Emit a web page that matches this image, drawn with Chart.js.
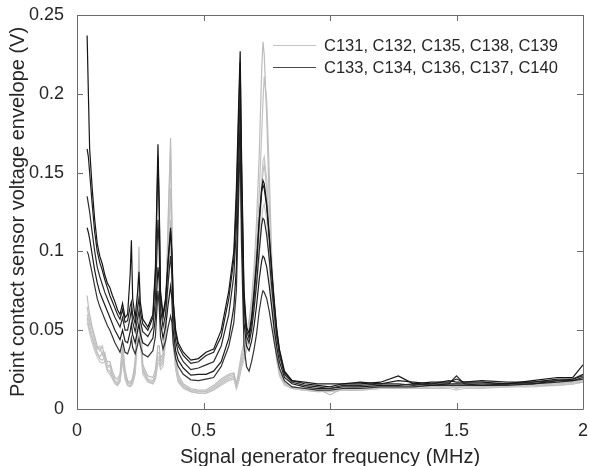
<!DOCTYPE html>
<html>
<head>
<meta charset="utf-8">
<script src="https://cdn.jsdelivr.net/npm/chart.js@4.4.1/dist/chart.umd.min.js"></script>
<style>
  html, body { margin: 0; padding: 0; background: #fff; }
  #wrap { width: 589px; height: 466px; }
</style>
</head>
<body>
<div id="wrap"><canvas id="envelope" width="589" height="466"></canvas></div>
<script>
// frequency grid (MHz) shared by every trace
const freq = [
  0.04, 0.045, 0.05, 0.06, 0.07, 0.08, 0.09, 0.10, 0.11, 0.12,
  0.13, 0.14, 0.15, 0.16, 0.17, 0.18, 0.19, 0.20, 0.21, 0.215,
  0.22, 0.23, 0.24, 0.245, 0.25, 0.26, 0.28, 0.30, 0.31, 0.32,
  0.325, 0.33, 0.34, 0.35, 0.36, 0.37, 0.375, 0.38, 0.39, 0.40,
  0.42, 0.45, 0.48, 0.51, 0.54, 0.57, 0.60, 0.62, 0.63, 0.64,
  0.645, 0.65, 0.66, 0.67, 0.68, 0.69, 0.70, 0.71, 0.72, 0.73,
  0.735, 0.74, 0.75, 0.76, 0.77, 0.78, 0.79, 0.80, 0.82, 0.85,
  0.90, 0.95, 1.00, 1.05, 1.12, 1.20, 1.27, 1.33, 1.40, 1.47,
  1.50, 1.53, 1.60, 1.70, 1.80, 1.90, 1.96, 2.00
];

// dark group: C133, C134, C136, C137, C140 (V)
const dark1 = [
  0.237, 0.2, 0.165, 0.14, 0.12, 0.105, 0.097, 0.092, 0.085, 0.08,
  0.077, 0.072, 0.068, 0.063, 0.06, 0.067, 0.058, 0.06, 0.085, 0.107,
  0.07, 0.058, 0.075, 0.087, 0.068, 0.057, 0.052, 0.06, 0.09, 0.168,
  0.13, 0.075, 0.06, 0.07, 0.095, 0.115, 0.1, 0.07, 0.05, 0.042,
  0.036, 0.031, 0.032, 0.036, 0.038, 0.05, 0.075, 0.1, 0.14, 0.2,
  0.227, 0.165, 0.075, 0.052, 0.048, 0.058, 0.075, 0.095, 0.12, 0.14,
  0.145, 0.143, 0.13, 0.11, 0.088, 0.068, 0.05, 0.038, 0.024, 0.018,
  0.016, 0.015, 0.014, 0.016, 0.016, 0.017, 0.021, 0.016, 0.017, 0.017,
  0.019, 0.017, 0.017, 0.016, 0.018, 0.02, 0.02, 0.028
];
const dark2 = [
  0.165, 0.16, 0.15, 0.13, 0.112, 0.1, 0.093, 0.088, 0.082, 0.077,
  0.072, 0.068, 0.064, 0.06, 0.057, 0.063, 0.055, 0.056, 0.065, 0.068,
  0.06, 0.054, 0.065, 0.07, 0.062, 0.054, 0.05, 0.058, 0.085, 0.16,
  0.125, 0.072, 0.058, 0.068, 0.092, 0.113, 0.098, 0.068, 0.048, 0.04,
  0.034, 0.029, 0.03, 0.034, 0.036, 0.046, 0.07, 0.095, 0.13, 0.19,
  0.22, 0.155, 0.07, 0.05, 0.045, 0.055, 0.072, 0.092, 0.118, 0.138,
  0.142, 0.14, 0.128, 0.108, 0.086, 0.066, 0.049, 0.037, 0.023, 0.018,
  0.017, 0.016, 0.016, 0.016, 0.017, 0.016, 0.018, 0.017, 0.016, 0.018,
  0.017, 0.017, 0.018, 0.017, 0.017, 0.019, 0.019, 0.022
];
const dark3 = [
  0.135, 0.13, 0.125, 0.112, 0.1, 0.09, 0.084, 0.079, 0.074, 0.07,
  0.066, 0.062, 0.058, 0.055, 0.052, 0.058, 0.05, 0.05, 0.058, 0.063,
  0.055, 0.049, 0.058, 0.062, 0.056, 0.049, 0.046, 0.052, 0.07, 0.12,
  0.1, 0.064, 0.052, 0.06, 0.08, 0.097, 0.086, 0.06, 0.043, 0.036,
  0.03, 0.025, 0.026, 0.028, 0.03, 0.04, 0.06, 0.085, 0.115, 0.175,
  0.2, 0.14, 0.065, 0.046, 0.042, 0.05, 0.064, 0.08, 0.1, 0.117,
  0.121, 0.12, 0.11, 0.095, 0.077, 0.06, 0.045, 0.034, 0.022, 0.017,
  0.015, 0.014, 0.013, 0.015, 0.015, 0.016, 0.016, 0.015, 0.016, 0.016,
  0.021, 0.016, 0.016, 0.016, 0.017, 0.018, 0.019, 0.021
];
const dark4 = [
  0.115, 0.112, 0.108, 0.098, 0.088, 0.08, 0.074, 0.07, 0.066, 0.062,
  0.058, 0.054, 0.05, 0.047, 0.044, 0.05, 0.043, 0.042, 0.049, 0.054,
  0.047, 0.042, 0.05, 0.054, 0.048, 0.042, 0.04, 0.045, 0.058, 0.09,
  0.08, 0.055, 0.045, 0.052, 0.066, 0.078, 0.07, 0.05, 0.037, 0.031,
  0.026, 0.0215, 0.022, 0.022, 0.024, 0.03, 0.045, 0.065, 0.09, 0.16,
  0.185, 0.125, 0.055, 0.04, 0.037, 0.043, 0.053, 0.066, 0.082, 0.094,
  0.097, 0.096, 0.09, 0.078, 0.064, 0.05, 0.039, 0.03, 0.02, 0.016,
  0.014, 0.013, 0.013, 0.014, 0.014, 0.015, 0.015, 0.016, 0.015, 0.016,
  0.016, 0.016, 0.015, 0.016, 0.016, 0.018, 0.018, 0.02
];
const dark5 = [
  0.1, 0.098, 0.094, 0.086, 0.078, 0.07, 0.065, 0.061, 0.057, 0.053,
  0.05, 0.046, 0.042, 0.039, 0.036, 0.043, 0.036, 0.035, 0.04, 0.045,
  0.039, 0.035, 0.041, 0.045, 0.04, 0.035, 0.033, 0.037, 0.046, 0.075,
  0.065, 0.046, 0.038, 0.043, 0.052, 0.059, 0.055, 0.042, 0.032, 0.027,
  0.022, 0.0185, 0.018, 0.019, 0.02, 0.027, 0.04, 0.055, 0.075, 0.14,
  0.17, 0.105, 0.04, 0.027, 0.024, 0.03, 0.038, 0.048, 0.062, 0.072,
  0.075, 0.074, 0.07, 0.062, 0.052, 0.042, 0.033, 0.026, 0.018, 0.014,
  0.013, 0.012, 0.012, 0.013, 0.013, 0.014, 0.014, 0.014, 0.015, 0.015,
  0.015, 0.015, 0.015, 0.015, 0.016, 0.017, 0.018, 0.019
];

// light group: C131, C132, C135, C138, C139 (V)
const light1 = [
  0.072, 0.065, 0.06, 0.052, 0.046, 0.04, 0.037, 0.04, 0.033, 0.03,
  0.03, 0.024, 0.02, 0.019, 0.022, 0.042, 0.025, 0.018, 0.017, 0.018,
  0.02, 0.03, 0.07, 0.103, 0.06, 0.028, 0.021, 0.02, 0.025, 0.04,
  0.04, 0.032, 0.035, 0.06, 0.12, 0.172, 0.12, 0.06, 0.032, 0.022,
  0.016, 0.013, 0.012, 0.012, 0.015, 0.019, 0.022, 0.023, 0.016, 0.025,
  0.03, 0.035, 0.042, 0.05, 0.056, 0.07, 0.09, 0.12, 0.16, 0.215,
  0.233, 0.225, 0.185, 0.13, 0.085, 0.055, 0.035, 0.025, 0.017, 0.014,
  0.013, 0.013, 0.009, 0.013, 0.014, 0.014, 0.015, 0.014, 0.015, 0.015,
  0.013, 0.015, 0.015, 0.015, 0.016, 0.017, 0.017, 0.019
];
const light2 = [
  0.065, 0.06, 0.056, 0.05, 0.043, 0.038, 0.04, 0.034, 0.036, 0.028,
  0.027, 0.022, 0.018, 0.017, 0.02, 0.038, 0.022, 0.017, 0.016, 0.017,
  0.019, 0.028, 0.062, 0.09, 0.055, 0.026, 0.019, 0.018, 0.022, 0.036,
  0.036, 0.03, 0.033, 0.056, 0.112, 0.165, 0.115, 0.056, 0.03, 0.02,
  0.015, 0.012, 0.011, 0.011, 0.014, 0.018, 0.021, 0.022, 0.015, 0.022,
  0.027, 0.032, 0.038, 0.045, 0.052, 0.064, 0.082, 0.105, 0.135, 0.175,
  0.195, 0.211, 0.195, 0.15, 0.095, 0.058, 0.036, 0.025, 0.017, 0.014,
  0.013, 0.012, 0.012, 0.013, 0.013, 0.014, 0.014, 0.014, 0.014, 0.015,
  0.016, 0.015, 0.014, 0.015, 0.016, 0.016, 0.017, 0.018
];
const light3 = [
  0.06, 0.057, 0.053, 0.046, 0.041, 0.036, 0.033, 0.036, 0.03, 0.026,
  0.028, 0.021, 0.017, 0.016, 0.019, 0.035, 0.021, 0.016, 0.016, 0.016,
  0.018, 0.026, 0.056, 0.08, 0.05, 0.025, 0.018, 0.017, 0.021, 0.033,
  0.033, 0.028, 0.031, 0.05, 0.098, 0.14, 0.1, 0.05, 0.028, 0.019,
  0.014, 0.012, 0.011, 0.011, 0.013, 0.017, 0.02, 0.021, 0.014, 0.02,
  0.025, 0.03, 0.035, 0.042, 0.048, 0.058, 0.072, 0.09, 0.115, 0.145,
  0.157, 0.16, 0.145, 0.11, 0.075, 0.05, 0.033, 0.023, 0.016, 0.013,
  0.012, 0.012, 0.011, 0.012, 0.013, 0.013, 0.014, 0.013, 0.014, 0.014,
  0.014, 0.014, 0.014, 0.014, 0.015, 0.016, 0.016, 0.018
];
const light4 = [
  0.058, 0.054, 0.05, 0.045, 0.039, 0.035, 0.032, 0.031, 0.033, 0.025,
  0.024, 0.02, 0.017, 0.015, 0.018, 0.032, 0.02, 0.015, 0.015, 0.015,
  0.017, 0.024, 0.052, 0.075, 0.047, 0.024, 0.018, 0.016, 0.02, 0.031,
  0.031, 0.027, 0.029, 0.046, 0.086, 0.12, 0.088, 0.045, 0.026, 0.018,
  0.014, 0.011, 0.01, 0.01, 0.012, 0.016, 0.019, 0.02, 0.013, 0.019,
  0.023, 0.028, 0.033, 0.04, 0.045, 0.055, 0.068, 0.085, 0.108, 0.138,
  0.15, 0.155, 0.14, 0.105, 0.072, 0.048, 0.032, 0.022, 0.016, 0.013,
  0.012, 0.011, 0.012, 0.012, 0.012, 0.013, 0.013, 0.013, 0.013, 0.014,
  0.014, 0.014, 0.014, 0.014, 0.015, 0.015, 0.016, 0.017
];
const light5 = [
  0.055, 0.052, 0.048, 0.042, 0.037, 0.033, 0.03, 0.029, 0.03, 0.024,
  0.022, 0.019, 0.016, 0.015, 0.017, 0.03, 0.019, 0.015, 0.014, 0.015,
  0.016, 0.022, 0.046, 0.065, 0.043, 0.022, 0.017, 0.016, 0.019, 0.029,
  0.029, 0.025, 0.027, 0.042, 0.077, 0.105, 0.078, 0.041, 0.025, 0.017,
  0.013, 0.011, 0.01, 0.01, 0.012, 0.015, 0.018, 0.019, 0.013, 0.018,
  0.022, 0.026, 0.031, 0.037, 0.042, 0.05, 0.062, 0.077, 0.096, 0.12,
  0.128, 0.13, 0.12, 0.092, 0.064, 0.044, 0.03, 0.021, 0.015, 0.013,
  0.012, 0.011, 0.011, 0.012, 0.012, 0.013, 0.013, 0.013, 0.013, 0.013,
  0.012, 0.013, 0.013, 0.014, 0.014, 0.015, 0.016, 0.017
];

const xTicks = [0, 0.5, 1, 1.5, 2];
const yTicks = [0, 0.05, 0.1, 0.15, 0.2, 0.25];
const legendLabels = ['C131, C132, C135, C138, C139', 'C133, C134, C136, C137, C140'];

const darkSeries = [dark1, dark2, dark3, dark4, dark5];
const lightSeries = [light1, light2, light3, light4, light5];
const darkColors = ['#151515', '#202020', '#2a2a2a', '#1c1c1c', '#333333'];
const lightColors = ['#bcbcbc', '#c2c2c2', '#c6c6c6', '#bfbfbf', '#c9c9c9'];

const toPoints = vals => vals.map((v, i) => ({ x: freq[i], y: v }));
const fmt = v => String(+(+v).toFixed(2));

// dark traces first so they sit on top of the light ones
const datasets = [];
darkSeries.forEach((s, i) => datasets.push({
  label: 'dark' + i, data: toPoints(s), borderColor: darkColors[i], borderWidth: 1.2
}));
lightSeries.forEach((s, i) => datasets.push({
  label: 'light' + i, data: toPoints(s), borderColor: lightColors[i], borderWidth: 1.2
}));

const FONT = "'Liberation Sans', Arial, Helvetica, sans-serif";
const TXT = '#262626';

// box round the axes with ticks pointing inward, matlab style
const axesBox = {
  id: 'axesBox',
  afterDatasetsDraw(chart) {
    const { ctx, chartArea: a, scales: { x, y } } = chart;
    const len = 6;
    ctx.save();
    ctx.strokeStyle = '#6b6b6b';
    ctx.lineWidth = 1;
    ctx.beginPath();
    ctx.rect(Math.round(a.left) + 0.5, Math.round(a.top) + 0.5,
      Math.round(a.right - a.left), Math.round(a.bottom - a.top));
    xTicks.forEach(v => {
      const px = Math.round(x.getPixelForValue(v)) + 0.5;
      ctx.moveTo(px, a.bottom); ctx.lineTo(px, a.bottom - len);
      ctx.moveTo(px, a.top); ctx.lineTo(px, a.top + len);
    });
    yTicks.forEach(v => {
      const py = Math.round(y.getPixelForValue(v)) + 0.5;
      ctx.moveTo(a.left, py); ctx.lineTo(a.left + len, py);
      ctx.moveTo(a.right, py); ctx.lineTo(a.right - len, py);
    });
    ctx.stroke();
    ctx.restore();
  }
};

// two-entry legend inside the top right of the axes
const groupLegend = {
  id: 'groupLegend',
  afterDraw(chart) {
    const { ctx } = chart;
    const rows = [
      { text: legendLabels[0], color: '#c4c4c4', y: 45 },
      { text: legendLabels[1], color: '#4a4a4a', y: 67 }
    ];
    ctx.save();
    ctx.font = '16.5px ' + FONT;
    ctx.textBaseline = 'middle';
    ctx.fillStyle = TXT;
    rows.forEach(r => {
      ctx.strokeStyle = r.color;
      ctx.lineWidth = 1.2;
      ctx.beginPath();
      ctx.moveTo(273, r.y + 0.5);
      ctx.lineTo(316, r.y + 0.5);
      ctx.stroke();
      ctx.fillText(r.text, 324, r.y + 1);
    });
    ctx.restore();
  }
};

new Chart(document.getElementById('envelope'), {
  type: 'line',
  data: { datasets },
  options: {
    responsive: false,
    animation: false,
    devicePixelRatio: 1,
    parsing: false,
    layout: { padding: { top: 15, right: 6, left: 0, bottom: 0 } },
    elements: {
      point: { radius: 0 },
      line: { tension: 0, fill: false }
    },
    plugins: {
      legend: { display: false },
      tooltip: { enabled: false }
    },
    scales: {
      x: {
        type: 'linear',
        min: 0,
        max: 2,
        grid: { display: false },
        border: { display: false },
        ticks: { stepSize: 0.5, padding: 3, color: TXT, font: { family: FONT, size: 18 }, callback: fmt },
        title: {
          display: true,
          text: 'Signal generator frequency (MHz)',
          color: TXT,
          font: { family: FONT, size: 20 },
          padding: { top: 0, bottom: -3 }
        },
        afterFit: s => { s.height = 57; s.paddingLeft = 0; s.paddingRight = 0; }
      },
      y: {
        type: 'linear',
        min: 0,
        max: 0.25,
        grid: { display: false },
        border: { display: false },
        ticks: { stepSize: 0.05, padding: 5, color: TXT, font: { family: FONT, size: 18 }, callback: fmt },
        title: {
          display: true,
          text: 'Point contact sensor voltage envelope (V)',
          color: TXT,
          font: { family: FONT, size: 20 },
          padding: { top: 6, bottom: 0 }
        },
        afterFit: s => { s.width = 77; s.paddingTop = 0; s.paddingBottom = 0; }
      }
    }
  },
  plugins: [axesBox, groupLegend]
});
</script>
</body>
</html>
